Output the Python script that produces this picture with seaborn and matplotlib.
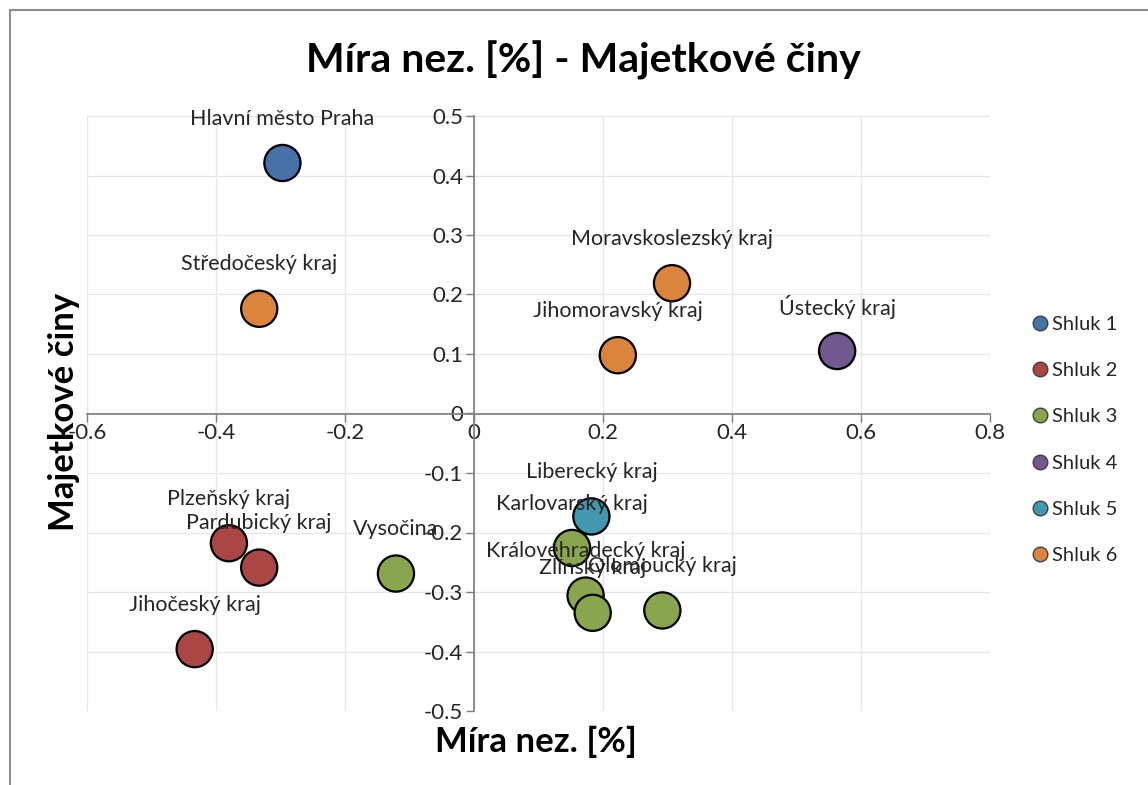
import seaborn as sns
import pandas as pd
import matplotlib.pyplot as plt
from matplotlib.ticker import FuncFormatter, MultipleLocator
from matplotlib.lines import Line2D

# data
kraje = ["Hlavní město Praha", "Středočeský kraj", "Moravskoslezský kraj",
         "Jihomoravský kraj", "Ústecký kraj", "Liberecký kraj",
         "Karlovarský kraj", "Královéhradecký kraj", "Zlínský kraj",
         "Olomoucký kraj", "Plzeňský kraj", "Pardubický kraj",
         "Vysočina", "Jihočeský kraj"]
mira_nez = [-0.297, -0.333, 0.307, 0.223, 0.563, 0.182,
            0.152, 0.173, 0.184, 0.292, -0.380, -0.333, -0.121, -0.433]
majetkove = [0.421, 0.176, 0.219, 0.098, 0.105, -0.173,
             -0.226, -0.306, -0.335, -0.331, -0.218, -0.259, -0.269, -0.396]
shluk = ["Shluk 1", "Shluk 6", "Shluk 6", "Shluk 6", "Shluk 4", "Shluk 5",
         "Shluk 3", "Shluk 3", "Shluk 3", "Shluk 3", "Shluk 2", "Shluk 2",
         "Shluk 3", "Shluk 2"]
shluky = ["Shluk 1", "Shluk 2", "Shluk 3", "Shluk 4", "Shluk 5", "Shluk 6"]
barvy = ["#4572A7", "#AA4643", "#89A54E", "#71588F", "#4198AF", "#DB843D"]

df = pd.DataFrame({"Kraj": kraje, "Mira": mira_nez, "Majetkove": majetkove, "Shluk": shluk})

sns.set_theme(style="whitegrid")
plt.rcParams['font.family'] = ['Lato', 'DejaVu Sans']

fig = plt.figure(figsize=(11.48, 7.85), dpi=100)
ax = fig.add_axes([87/1148, 1 - 711/785, (990 - 87)/1148, (711 - 116)/785])

sns.scatterplot(data=df, x="Mira", y="Majetkove", hue="Shluk", hue_order=shluky,
                palette=barvy, s=680, edgecolor="black", linewidth=1.6,
                alpha=1, ax=ax, zorder=3, legend=False)

for k, xv, yv in zip(kraje, mira_nez, majetkove):
    ax.annotate(k, (xv, yv), xytext=(0, 32), textcoords="offset points",
                ha="center", va="center", fontsize=15.5, color="#262626", zorder=4)

ax.set_xlim(-0.6, 0.8)
ax.set_ylim(-0.5, 0.5)
ax.xaxis.set_major_locator(MultipleLocator(0.2))
ax.yaxis.set_major_locator(MultipleLocator(0.1))
fmt = FuncFormatter(lambda v, _: f"{round(v, 2):g}")
ax.xaxis.set_major_formatter(fmt)
ax.yaxis.set_major_formatter(fmt)

ax.grid(True, color="#E6E6E6", linewidth=0.9)
for side in ["top", "right"]:
    ax.spines[side].set_visible(False)
ax.spines["left"].set_position(("data", 0))
ax.spines["bottom"].set_position(("data", 0))
ax.spines["left"].set_color("#808080")
ax.spines["bottom"].set_color("#808080")
ax.spines["left"].set_zorder(2)
ax.spines["bottom"].set_zorder(2)
ax.tick_params(axis="both", which="major", direction="out", length=6, width=1,
               color="#808080", labelsize=16, labelcolor="#262626", left=True, bottom=True)
ax.tick_params(axis="x", pad=1)
ax.tick_params(axis="y", pad=2)

ax.set_xlabel("")
ax.set_ylabel("")
fig.text(536/1148, 1 - 742/785, "Míra nez. [%]", ha="center", va="center",
         fontsize=25, fontweight="bold", color="black")
fig.text(64/1148, 1 - 412/785, "Majetkové činy", ha="center", va="center",
         rotation=90, fontsize=25, fontweight="bold", color="black")
fig.text(583/1148, 1 - 60/785, "Míra nez. [%] - Majetkové činy", ha="center",
         va="center", fontsize=29.5, fontweight="bold", color="black")

leg_handles = [Line2D([0], [0], marker="o", linestyle="", markersize=10.5,
                      markerfacecolor=c, markeredgecolor="#404040", markeredgewidth=1)
               for c in barvy]
fig.legend(leg_handles, shluky, loc="center left", bbox_to_anchor=(1012/1148, 1 - 440/785),
           frameon=False, fontsize=14.5, handletextpad=0.1, labelspacing=1.45,
           handlelength=1.0, labelcolor="#262626")

# outer chart frame
fig.add_artist(Line2D([10/1148, 10/1148], [0, 1 - 10/785], transform=fig.transFigure,
                      color="#8C8C8C", linewidth=1.5))
fig.add_artist(Line2D([10/1148, 1], [1 - 10/785, 1 - 10/785], transform=fig.transFigure,
                      color="#8C8C8C", linewidth=1.5))

fig.savefig("out.png", dpi=100)
